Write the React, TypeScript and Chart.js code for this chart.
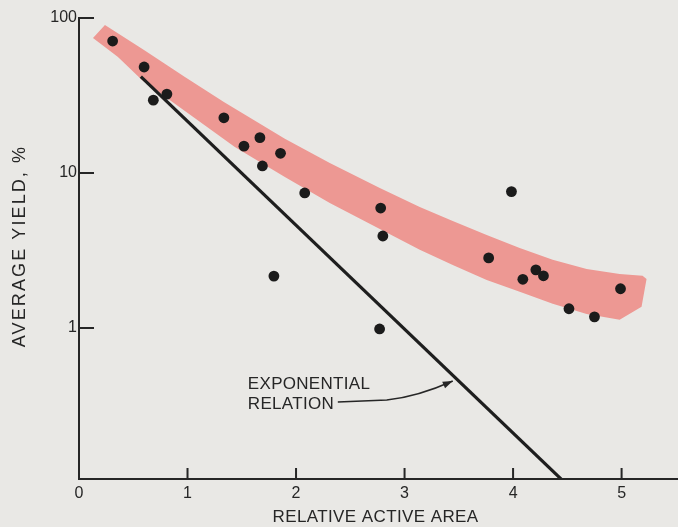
import React, { useEffect, useRef } from "react";
import { Chart, registerables } from "chart.js";

Chart.register(...registerables);

// ---- data ----
const POINTS_X = [0.31, 0.6, 0.685, 0.81, 1.335, 1.52, 1.667, 1.69, 1.857, 2.08, 1.796, 2.78, 2.8, 2.77, 3.985, 3.775, 4.09, 4.21, 4.28, 4.515, 4.75, 4.99];
const POINTS_Y = [71, 48.3, 29.5, 32.3, 22.7, 14.9, 16.9, 11.1, 13.4, 7.43, 2.16, 5.94, 3.92, 0.985, 7.58, 2.83, 2.06, 2.37, 2.17, 1.33, 1.18, 1.79];

const BAND_UPPER_X = [0.239, 0.599, 0.976, 1.335, 1.897, 2.311, 2.772, 3.14, 3.444, 3.757, 4.061, 4.365, 4.678, 4.982, 5.193, 5.23];
const BAND_UPPER_Y = [90.1, 62.2, 41.6, 28.7, 16.6, 11.6, 8.0, 6.03, 4.9, 3.98, 3.28, 2.75, 2.4, 2.23, 2.17, 2.07];
const BAND_LOWER_X = [0.129, 0.359, 0.58, 0.976, 1.436, 1.897, 2.311, 2.772, 3.14, 3.444, 3.757, 4.061, 4.365, 4.678, 4.982, 5.184];
const BAND_LOWER_Y = [74.3, 56.0, 39.8, 25.1, 14.7, 9.42, 6.4, 4.35, 3.19, 2.55, 2.04, 1.71, 1.43, 1.23, 1.13, 1.37];

const EXP_X = [0.57, 4.48];
const EXP_Y = [41.8, 0.1];

const X_TICKS = [0, 1, 2, 3, 4, 5];
const Y_TICKS = [1, 10, 100];
const X_MIN = 0;
const X_MAX = 5.47;
const Y_MIN = 0.106;
const Y_MAX = 100;

const X_TITLE = "RELATIVE ACTIVE AREA";
const Y_TITLE = "AVERAGE YIELD, %";
const ANNOT_LINES = ["EXPONENTIAL", "RELATION"];
const ANNOT_TEXT_X = 1.556;
const ANNOT_TEXT_Y = [0.435, 0.323];
const ARROW_START = { x: 2.385, y: 0.333 };
const ARROW_MID = { x: 2.836, y: 0.343 };
const ARROW_CTRL = { x: 3.12, y: 0.36 };
const ARROW_TIP = { x: 3.444, y: 0.455 };

const BG = "#e9e8e5";
const INK = "#262626";
const FONT = '"Liberation Sans", Arial, sans-serif';

const decoPlugin = {
  id: "deco",
  beforeDraw(chart: any) {
    const { ctx } = chart;
    ctx.save();
    ctx.fillStyle = BG;
    ctx.fillRect(0, 0, chart.width, chart.height);
    ctx.restore();
  },
  afterDatasetsDraw(chart: any) {
    const { ctx, chartArea, scales } = chart;
    const xs = scales.x;
    const ys = scales.y;
    const { left, top, bottom } = chartArea;
    ctx.save();
    ctx.strokeStyle = INK;
    ctx.lineWidth = 2;
    ctx.lineCap = "butt";
    ctx.beginPath();
    ctx.moveTo(left, top - 1);
    ctx.lineTo(left, bottom);
    ctx.moveTo(left - 1, bottom);
    ctx.lineTo(chart.width, bottom);
    Y_TICKS.forEach((v) => {
      const py = ys.getPixelForValue(v);
      ctx.moveTo(left, py);
      ctx.lineTo(left + 15, py);
    });
    X_TICKS.forEach((v) => {
      if (v === 0) return;
      const px = xs.getPixelForValue(v);
      ctx.moveTo(px, bottom);
      ctx.lineTo(px, bottom - 11);
    });
    ctx.stroke();

    // axis titles
    ctx.fillStyle = INK;
    ctx.textAlign = "center";
    ctx.textBaseline = "middle";
    ctx.font = "17px " + FONT;
    (ctx as any).letterSpacing = "0.4px";
    ctx.fillText(X_TITLE, (left + chart.width) / 2 - 3, 517);
    ctx.save();
    ctx.translate(20, 246);
    ctx.rotate(-Math.PI / 2);
    ctx.font = "18px " + FONT;
    (ctx as any).letterSpacing = "2.1px";
    ctx.fillText(Y_TITLE, 0, 0);
    ctx.restore();

    // annotation
    (ctx as any).letterSpacing = "0.3px";
    ctx.font = "17px " + FONT;
    ctx.textAlign = "left";
    ANNOT_LINES.forEach((t, i) => {
      ctx.fillText(t, xs.getPixelForValue(ANNOT_TEXT_X), ys.getPixelForValue(ANNOT_TEXT_Y[i]));
    });
    const p = (pt: { x: number; y: number }) => [xs.getPixelForValue(pt.x), ys.getPixelForValue(pt.y)];
    const [sx, sy] = p(ARROW_START);
    const [mx, my] = p(ARROW_MID);
    const [cx, cy] = p(ARROW_CTRL);
    const [tx, ty] = p(ARROW_TIP);
    ctx.lineWidth = 1.6;
    ctx.beginPath();
    ctx.moveTo(sx, sy);
    ctx.lineTo(mx, my);
    ctx.quadraticCurveTo(cx, cy, tx, ty);
    ctx.stroke();
    const ang = Math.atan2(ty - cy, tx - cx);
    const L = 10;
    const W = 3.5;
    ctx.beginPath();
    ctx.moveTo(tx, ty);
    ctx.lineTo(tx - L * Math.cos(ang) + W * Math.sin(ang), ty - L * Math.sin(ang) - W * Math.cos(ang));
    ctx.lineTo(tx - L * Math.cos(ang) - W * Math.sin(ang), ty - L * Math.sin(ang) + W * Math.cos(ang));
    ctx.closePath();
    ctx.fill();
    ctx.restore();
  },
};

export default function App() {
  const ref = useRef<HTMLCanvasElement | null>(null);
  useEffect(() => {
    document.body.style.background = BG;
    const canvas = ref.current;
    if (!canvas) return;
    const points = POINTS_X.map((x, i) => ({ x, y: POINTS_Y[i] }));
    const band = [
      ...BAND_UPPER_X.map((x, i) => ({ x, y: BAND_UPPER_Y[i] })),
      ...BAND_LOWER_X.map((x, i) => ({ x, y: BAND_LOWER_Y[i] })).reverse(),
    ];
    const expLine = EXP_X.map((x, i) => ({ x, y: EXP_Y[i] }));

    const chart = new Chart(canvas, {
      type: "line",
      data: {
        datasets: [
          {
            label: "data",
            data: points,
            showLine: false,
            pointRadius: 5.4,
            pointBackgroundColor: "#1b1b1b",
            pointBorderWidth: 0,
            order: 0,
          },
          {
            label: "exponential",
            data: expLine,
            borderColor: "#1e1e1e",
            borderWidth: 3.2,
            pointRadius: 0,
            fill: false,
            order: 1,
          },
          {
            label: "band",
            data: band,
            borderWidth: 0,
            borderColor: "rgba(0,0,0,0)",
            backgroundColor: "rgb(237,152,147)",
            pointRadius: 0,
            fill: "shape",
            tension: 0,
            order: 2,
          },
        ],
      } as any,
      options: {
        responsive: false,
        animation: false,
        devicePixelRatio: 1,
        layout: { padding: { top: 18, left: 0, right: 0, bottom: 0 } },
        plugins: {
          legend: { display: false },
          tooltip: { enabled: false },
          title: { display: false },
        },
        scales: {
          x: {
            type: "linear",
            min: X_MIN,
            max: X_MAX,
            grid: { display: false, drawTicks: false },
            border: { display: false },
            afterBuildTicks: (s: any) => {
              s.ticks = X_TICKS.map((v) => ({ value: v }));
            },
            afterFit: (s: any) => {
              s.height = 48;
              s.paddingLeft = 0;
              s.paddingRight = 0;
            },
            ticks: {
              padding: 5,
              color: INK,
              font: { family: FONT, size: 16 },
              maxRotation: 0,
              callback: (v: any) => String(v),
            },
          },
          y: {
            type: "logarithmic",
            min: Y_MIN,
            max: Y_MAX,
            grid: { display: false, drawTicks: false },
            border: { display: false },
            afterBuildTicks: (s: any) => {
              s.ticks = Y_TICKS.map((v) => ({ value: v }));
            },
            afterFit: (s: any) => {
              s.width = 79;
            },
            ticks: {
              padding: 2,
              color: INK,
              font: { family: FONT, size: 16 },
              callback: (v: any) => String(v),
            },
          },
        },
      } as any,
      plugins: [decoPlugin],
    });
    return () => chart.destroy();
  }, []);
  return (
    <div style={{ position: "absolute", left: 0, top: 0, width: 678, height: 527, background: BG }}>
      <canvas ref={ref} width={678} height={527} style={{ display: "block" }} />
    </div>
  );
}
